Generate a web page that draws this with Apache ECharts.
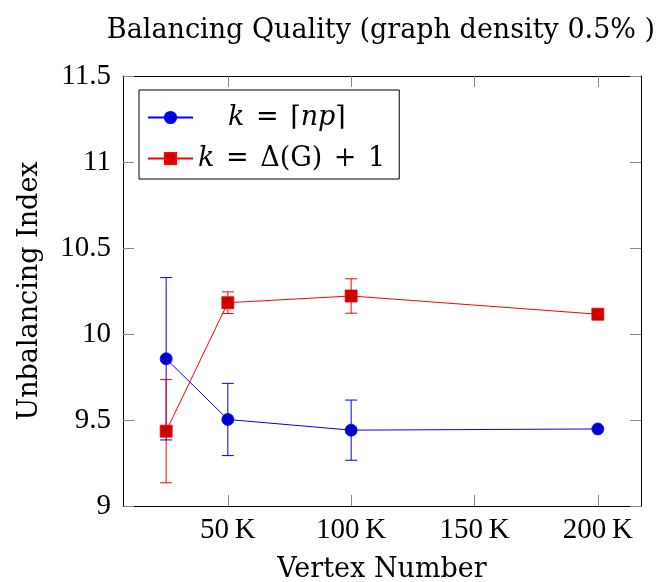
<!DOCTYPE html>
<html>
<head>
<meta charset="utf-8">
<script src="https://cdn.jsdelivr.net/npm/echarts@6/dist/echarts.min.js"></script>
<style>
  html, body { margin: 0; padding: 0; background: #fff; }
  #chart { width: 666px; height: 582px; }
</style>
</head>
<body>
<div id="chart"></div>
<script>
// Vertex counts (x) and the measured unbalancing index with its spread
const vertexCounts = [25000, 50000, 100000, 200000];
const npMean = [9.856, 9.503, 9.441, 9.448];
const npErr = [0.472, 0.210, 0.175, 0.0];
const deltaMean = [9.435, 10.182, 10.221, 10.115];
const deltaErr = [0.300, 0.063, 0.100, 0.0];
const xTickValues = [50000, 100000, 150000, 200000];

const NUM_FONT = '"Liberation Serif", "DejaVu Serif", serif';
const WORD_FONT = '"DejaVu Serif", "Liberation Serif", serif';
const NUM_FS = 29;
const WORD_FS = 27;
const BLUE = '#0000ff', BLUE_FILL = '#0000cc';
const RED = '#ff0000', RED_FILL = '#cc0000';

function toPairs(means) {
  return vertexCounts.map((x, i) => [x, means[i]]);
}
function errData(means, errs) {
  return vertexCounts.map((x, i) => [x, means[i] - errs[i], means[i] + errs[i]]);
}
function errorBarSeries(means, errs, color) {
  return {
    type: 'custom',
    silent: true,
    data: errData(means, errs),
    encode: { x: 0, y: [1, 2] },
    z: 1,
    renderItem: function (params, api) {
      const x = api.value(0);
      const lo = api.coord([x, api.value(1)]);
      const hi = api.coord([x, api.value(2)]);
      if (Math.abs(lo[1] - hi[1]) < 0.5) return null;
      const half = 6;
      const style = { stroke: color, lineWidth: 1 };
      return {
        type: 'group',
        children: [
          { type: 'line', shape: { x1: lo[0], y1: lo[1], x2: hi[0], y2: hi[1] }, style },
          { type: 'line', shape: { x1: lo[0] - half, y1: lo[1], x2: lo[0] + half, y2: lo[1] }, style },
          { type: 'line', shape: { x1: hi[0] - half, y1: hi[1], x2: hi[0] + half, y2: hi[1] }, style }
        ]
      };
    }
  };
}

const tickStyle = { lineStyle: { color: '#888', width: 1 } };
const axisLineStyle = { lineStyle: { color: '#000', width: 1 } };

const chart = echarts.init(document.getElementById('chart'), null, { renderer: 'canvas' });
chart.setOption({
  animation: false,
  backgroundColor: '#fff',
  textStyle: { fontFamily: WORD_FONT },
  grid: { left: 123, right: 25, top: 76, bottom: 76, containLabel: false, outerBoundsMode: 'none' },
  graphic: [{
    type: 'text',
    x: 381, y: 31,
    style: {
      text: 'Balancing Quality (graph density 0.5% )',
      font: WORD_FS + 'px ' + WORD_FONT,
      fill: '#000',
      textAlign: 'center',
      textVerticalAlign: 'middle'
    }
  }],
  legend: {
    orient: 'vertical',
    left: 139, top: 90,
    padding: [14, 14, 7, 8],
    itemGap: 14,
    itemWidth: 45,
    itemHeight: 14,
    borderColor: '#000',
    borderWidth: 1,
    borderRadius: 0,
    data: ['npCeil', 'maxDegree'],
    formatter: function (name) {
      if (name === 'npCeil') return '{sp|}{i|k}{o| = }⌈{i|np}⌉';
      return '{i|k}{o| = }Δ(G){o| + }1';
    },
    textStyle: {
      fontFamily: WORD_FONT, fontSize: WORD_FS, color: '#000',
      rich: {
        i: { fontFamily: WORD_FONT, fontSize: WORD_FS, fontStyle: 'italic', color: '#000' },
        o: { fontFamily: WORD_FONT, fontSize: WORD_FS, color: '#000', padding: [0, 3] },
        sp: { width: 30 }
      }
    }
  },
  xAxis: [{
    type: 'value',
    min: 7500, max: 217500,
    position: 'bottom',
    name: 'Vertex Number',
    nameLocation: 'middle',
    nameGap: 50,
    nameTextStyle: { fontFamily: WORD_FONT, fontSize: WORD_FS, color: '#000' },
    axisLine: { show: true, ...axisLineStyle },
    axisTick: { show: true, inside: true, length: 11, customValues: xTickValues, ...tickStyle },
    axisLabel: {
      customValues: xTickValues,
      fontFamily: NUM_FONT, fontSize: NUM_FS, color: '#000', margin: 10,
      formatter: v => (v / 1000) + '\u2009K'
    },
    splitLine: { show: false }
  }, {
    type: 'value',
    min: 7500, max: 217500,
    position: 'top',
    axisLine: { show: true, onZero: false, ...axisLineStyle },
    axisTick: { show: true, inside: true, length: 11, customValues: xTickValues, ...tickStyle },
    axisLabel: { show: false },
    splitLine: { show: false }
  }],
  yAxis: [{
    type: 'value',
    min: 9, max: 11.5, interval: 0.5,
    position: 'left',
    name: 'Unbalancing Index',
    nameLocation: 'middle',
    nameGap: 80,
    nameTextStyle: { fontFamily: WORD_FONT, fontSize: WORD_FS, color: '#000' },
    axisLine: { show: true, onZero: false, ...axisLineStyle },
    axisTick: { show: true, inside: true, length: 11, ...tickStyle },
    axisLabel: { fontFamily: NUM_FONT, fontSize: NUM_FS, color: '#000', margin: 12 },
    splitLine: { show: false }
  }, {
    type: 'value',
    min: 9, max: 11.5, interval: 0.5,
    position: 'right',
    axisLine: { show: true, onZero: false, ...axisLineStyle },
    axisTick: { show: true, inside: true, length: 11, ...tickStyle },
    axisLabel: { show: false },
    splitLine: { show: false }
  }],
  series: [
    errorBarSeries(npMean, npErr, BLUE),
    errorBarSeries(deltaMean, deltaErr, RED),
    {
      name: 'npCeil',
      type: 'line',
      data: toPairs(npMean),
      symbol: 'circle',
      symbolSize: 12,
      z: 3,
      lineStyle: { color: BLUE, width: 1 },
      itemStyle: { color: BLUE_FILL, borderColor: BLUE, borderWidth: 0.8 }
    },
    {
      name: 'maxDegree',
      type: 'line',
      data: toPairs(deltaMean),
      symbol: 'rect',
      symbolSize: 12,
      z: 3,
      lineStyle: { color: RED, width: 1 },
      itemStyle: { color: RED_FILL, borderColor: RED, borderWidth: 0.8 }
    }
  ]
});
</script>
</body>
</html>
